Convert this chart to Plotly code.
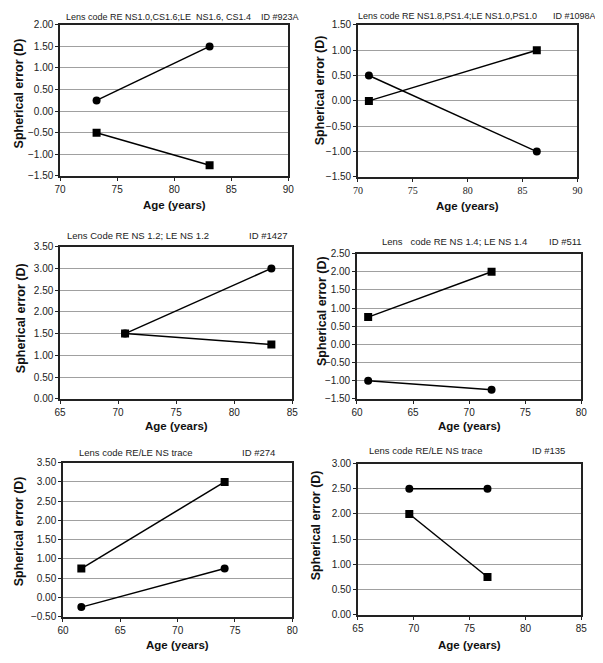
import plotly.graph_objects as go

# The page body has an 8px default margin; the figure is sized so that it
# fills the 603x663 window exactly, and page pixel coordinates are mapped in.
PAGE_W, PAGE_H = 603, 663
OFF = 8
W, H = PAGE_W - OFF, PAGE_H - OFF


def fx(px):
    return (px - OFF) / W


def fy(py):
    return 1 - (py - OFF) / H


# ---- data ----
p1_age = [73.2, 83.1]
p1_circle = [0.25, 1.5]
p1_square = [-0.5, -1.25]

p2_age = [71.0, 86.3]
p2_circle = [0.5, -1.0]
p2_square = [0.0, 1.0]

p3_age = [70.6, 83.2]
p3_circle = [1.5, 3.0]
p3_square = [1.5, 1.25]

p4_age = [61.0, 72.0]
p4_circle = [-1.0, -1.25]
p4_square = [0.75, 2.0]

p5_age = [61.6, 74.1]
p5_circle = [-0.25, 0.75]
p5_square = [0.75, 3.0]

p6_age = [69.6, 76.6]
p6_circle = [2.5, 2.5]
p6_square = [2.0, 0.75]

lens_codes = [
    "Lens code RE NS1.0,CS1.6;LE  NS1.6, CS1.4",
    "Lens code RE NS1.8,PS1.4;LE NS1.0,PS1.0",
    "Lens Code RE NS 1.2; LE NS 1.2",
    "Lens   code RE NS 1.4; LE NS 1.4",
    "Lens code RE/LE NS trace",
    "Lens code RE/LE NS trace",
]
ids = ["ID #923A", "ID #1098A", "ID #1427", "ID #511", "ID #274", "ID #135"]

x_ranges = [(70, 90), (70, 90), (65, 85), (60, 80), (60, 80), (65, 85)]
y_ranges = [(-1.5, 2.0), (-1.5, 1.5), (0, 3.5), (-1.5, 2.5), (-0.5, 3.5), (0, 3.0)]

panels = [
    (p1_age, p1_circle, p1_square),
    (p2_age, p2_circle, p2_square),
    (p3_age, p3_circle, p3_square),
    (p4_age, p4_circle, p4_square),
    (p5_age, p5_circle, p5_square),
    (p6_age, p6_circle, p6_square),
]

# plot-area boxes in page pixels: left, right, top, bottom
boxes = [
    (55, 288, 19, 173),
    (359, 583, 19, 174),
    (55, 292, 245, 400),
    (358, 587, 252, 400),
    (58, 292, 465, 622),
    (359, 587, 466, 620),
]
title_y = [11, 10, 234, 240, 455, 453]
title_x = [59, 357, 60, 382, 72, 368]
title_size = [9, 9, 9.5, 9.5, 9.5, 9.5]
id_x = [258, 556, 246, 552, 239, 535]
xtitle_y = [203, 204, 428, 428, 651, 651]
ytitle_x = [13, 320, 15, 323, 13, 317]
ytitle_y = [89, 86, 318, 311, 535, 529]

fig = go.Figure()
font_family = "Liberation Sans, Arial, sans-serif"

for i, ((age, circ, sq), (l, r, t, b)) in enumerate(zip(panels, boxes)):
    n = i + 1
    xa = "x" if n == 1 else f"x{n}"
    ya = "y" if n == 1 else f"y{n}"
    fig.add_trace(go.Scatter(x=age, y=circ, mode="lines+markers", xaxis=xa, yaxis=ya,
                             line=dict(color="black", width=1.5),
                             marker=dict(symbol="circle", size=8, color="black"),
                             showlegend=False))
    fig.add_trace(go.Scatter(x=age, y=sq, mode="lines+markers", xaxis=xa, yaxis=ya,
                             line=dict(color="black", width=1.5),
                             marker=dict(symbol="square", size=8, color="black"),
                             showlegend=False))
    xkey = "xaxis" if n == 1 else f"xaxis{n}"
    ykey = "yaxis" if n == 1 else f"yaxis{n}"
    xfont = dict(family="Liberation Serif, Times New Roman, serif", size=10, color="#222") if n == 2 \
        else dict(family=font_family, size=10, color="#222")
    fig.update_layout(**{
        xkey: dict(domain=[fx(l), fx(r)], anchor=ya, range=list(x_ranges[i]), dtick=5,
                   showgrid=False, zeroline=False, showline=True, mirror=True,
                   linecolor="#222", linewidth=1.5, ticks="outside", ticklen=3,
                   tickcolor="#222", tickfont=xfont),
        ykey: dict(domain=[fy(b), fy(t)], anchor=xa, range=list(y_ranges[i]), dtick=0.5,
                   tickformat=".2f", showgrid=True, gridcolor="#a0a0a0", gridwidth=1,
                   zeroline=False, showline=True, mirror=True,
                   linecolor="#222", linewidth=1.5, ticks="outside", ticklen=3,
                   tickcolor="#222", tickfont=dict(family=font_family, size=10, color="#222")),
    })
    # title annotations
    fig.add_annotation(x=fx(title_x[i]), y=fy(title_y[i]), xref="paper", yref="paper",
                       text=lens_codes[i].replace("  ", "&nbsp; "), showarrow=False,
                       xanchor="left", yanchor="middle",
                       font=dict(family=font_family, size=title_size[i], color="#222"))
    fig.add_annotation(x=fx(id_x[i]), y=fy(title_y[i]), xref="paper", yref="paper",
                       text=ids[i], showarrow=False, xanchor="left", yanchor="middle",
                       font=dict(family=font_family, size=title_size[i], color="#222"))
    # axis titles
    fig.add_annotation(x=fx((l + r) / 2), y=fy(xtitle_y[i]), xref="paper", yref="paper",
                       text="<b>Age (years)</b>", showarrow=False, xanchor="center", yanchor="middle",
                       font=dict(family=font_family, size=11.5, color="#111"))
    fig.add_annotation(x=fx(ytitle_x[i]), y=fy(ytitle_y[i]), xref="paper", yref="paper",
                       text="<b>Spherical error (D)</b>", showarrow=False, textangle=-90,
                       xanchor="center", yanchor="middle",
                       font=dict(family=font_family, size=12.5, color="#111"))

fig.update_layout(width=W, height=H, margin=dict(l=0, r=0, t=0, b=0),
                  paper_bgcolor="white", plot_bgcolor="white")

fig.write_html("out.html")
